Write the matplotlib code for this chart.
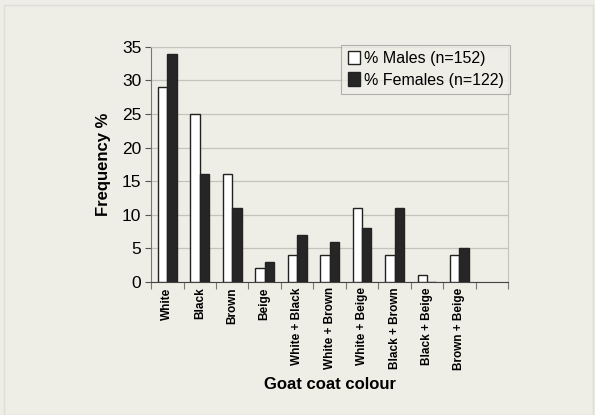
import numpy as np
import matplotlib.pyplot as plt
from matplotlib.patches import Rectangle

plt.rcParams['font.family'] = ['Liberation Sans', 'DejaVu Sans']

# coat colour categories and frequency (%) by sex
colours = ['White', 'Black', 'Brown', 'Beige', 'White + Black', 'White + Brown',
           'White + Beige', 'Black + Brown', 'Black + Beige', 'Brown + Beige']
males = [29, 25, 16, 2, 4, 4, 11, 4, 1, 4]
females = [34, 16, 11, 3, 7, 6, 8, 11, 0, 5]

bg = '#eeeee6'
fig = plt.figure(figsize=(5.95, 4.15), dpi=100, facecolor=bg)
fig.add_artist(Rectangle((0.007, 0.0), 0.99, 0.988, transform=fig.transFigure,
                         fill=False, edgecolor='#deded8', lw=1))
ax = fig.add_axes([0.254, 0.321, 0.600, 0.566])
ax.set_facecolor(bg)

x = np.arange(len(colours)) + 0.5
w = 0.29
ax.bar(x - w / 2, males, w, color='white', edgecolor='#222222', lw=1,
       label='% Males (n=152)', zorder=3)
ax.bar(x + w / 2, females, w, color='#262626', edgecolor='#222222', lw=1,
       label='% Females (n=122)', zorder=3)

ax.set_xlim(0, 11)
ax.set_ylim(0, 35)
ax.set_yticks(range(0, 36, 5))
ax.yaxis.grid(True, color='#c4c4bc', lw=0.9, zorder=0)
ax.tick_params(axis='y', labelsize=12.5, length=4, color='#555555', pad=3)

# tick marks sit on the category boundaries, labels in between
ax.set_xticks(range(0, 12))
ax.set_xticklabels([])
ax.set_xticks(x, minor=True)
ax.set_xticklabels(colours, minor=True, rotation=90, fontsize=8.5,
                   fontweight='bold', va='top')
ax.tick_params(axis='x', which='major', length=5, color='#777777')
ax.tick_params(axis='x', which='minor', length=0, pad=4)

for side in ['top', 'right']:
    ax.spines[side].set_color('#c4c4bc')
ax.spines['left'].set_color('#777777')
ax.spines['bottom'].set_color('#444444')

ax.set_ylabel('Frequency %', fontsize=12, fontweight='bold', labelpad=8)
ax.set_xlabel('Goat coat colour', fontsize=12, fontweight='bold', labelpad=5)

leg = ax.legend(loc='upper right', bbox_to_anchor=(1.005, 1.01), fontsize=11.5,
                frameon=True, fancybox=False, handlelength=0.75,
                handleheight=0.9, handletextpad=0.25, borderpad=0.4,
                labelspacing=0.4, borderaxespad=0)
leg.get_frame().set_edgecolor('#a0a0a0')
leg.get_frame().set_facecolor(bg)
leg.get_frame().set_linewidth(0.8)

fig.savefig('out.png', dpi=100, facecolor=bg)
